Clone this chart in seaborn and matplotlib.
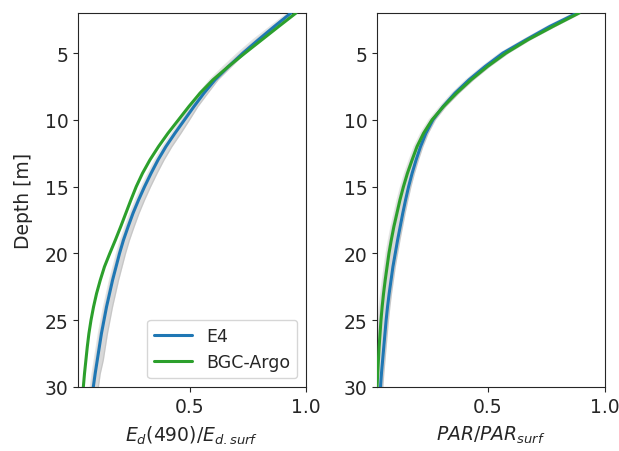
import numpy as np
import pandas as pd
import matplotlib
matplotlib.use('Agg')
import matplotlib.pyplot as plt
import seaborn as sns

# depth levels [m]
depth = list(range(2, 31))

# Ed(490)/Ed.surf
ed_e4 = [0.935, 0.864, 0.795, 0.728, 0.666, 0.608, 0.560, 0.517, 0.476, 0.435,
         0.396, 0.362, 0.332, 0.304, 0.278, 0.254, 0.233, 0.213, 0.196, 0.181,
         0.166, 0.153, 0.140, 0.129, 0.118, 0.109, 0.100, 0.091, 0.083]
ed_argo = [0.957, 0.883, 0.810, 0.737, 0.666, 0.599, 0.543, 0.495, 0.450, 0.405,
           0.364, 0.327, 0.295, 0.268, 0.245, 0.223, 0.201, 0.178, 0.154, 0.131,
           0.113, 0.097, 0.084, 0.073, 0.064, 0.057, 0.051, 0.045, 0.040]
ed_ens_lo = [0.922, 0.847, 0.773, 0.706, 0.644, 0.586, 0.538, 0.500, 0.459, 0.422,
             0.383, 0.349, 0.319, 0.291, 0.265, 0.241, 0.220, 0.200, 0.183, 0.168,
             0.153, 0.140, 0.127, 0.116, 0.105, 0.096, 0.087, 0.078, 0.070]
ed_ens_hi = [0.939, 0.868, 0.804, 0.737, 0.679, 0.621, 0.577, 0.534, 0.498, 0.461,
             0.422, 0.388, 0.358, 0.330, 0.304, 0.280, 0.259, 0.239, 0.222, 0.207,
             0.192, 0.179, 0.166, 0.155, 0.144, 0.135, 0.126, 0.113, 0.105]

# PAR/PARsurf
par_e4 = [0.881, 0.765, 0.663, 0.564, 0.488, 0.419, 0.359, 0.308, 0.265, 0.235,
          0.212, 0.193, 0.176, 0.161, 0.148, 0.136, 0.125, 0.114, 0.104, 0.094,
          0.086, 0.078, 0.071, 0.065, 0.060, 0.055, 0.050, 0.045, 0.041]
par_argo = [0.889, 0.778, 0.671, 0.577, 0.498, 0.428, 0.366, 0.310, 0.261, 0.225,
            0.197, 0.176, 0.156, 0.139, 0.124, 0.111, 0.098, 0.087, 0.077, 0.069,
            0.061, 0.054, 0.048, 0.043, 0.039, 0.035, 0.032, 0.029, 0.026]
par_ens_lo = [0.869, 0.753, 0.651, 0.552, 0.476, 0.407, 0.347, 0.296, 0.249, 0.213,
              0.185, 0.164, 0.144, 0.127, 0.112, 0.099, 0.086, 0.075, 0.065, 0.057,
              0.049, 0.042, 0.036, 0.031, 0.028, 0.026, 0.025, 0.024, 0.023]
par_ens_hi = [0.899, 0.788, 0.681, 0.587, 0.508, 0.438, 0.376, 0.320, 0.275, 0.245,
              0.222, 0.203, 0.186, 0.171, 0.158, 0.146, 0.135, 0.124, 0.114, 0.104,
              0.096, 0.088, 0.081, 0.075, 0.070, 0.065, 0.060, 0.055, 0.051]

sns.set_style('ticks')
fs = 13.5
plt.rcParams['font.size'] = fs

fig = plt.figure(figsize=(6.19, 4.52), dpi=100)
ax1 = fig.add_axes([78/619, 64/452, 228/619, 374/452])
ax2 = fig.add_axes([377/619, 64/452, 228/619, 374/452])

panels = [
    (ax1, ed_e4, ed_argo, ed_ens_lo, ed_ens_hi, r'$E_d(490)/E_{d.surf}$', 0.017),
    (ax2, par_e4, par_argo, par_ens_lo, par_ens_hi, r'$PAR/PAR_{surf}$', 0.026),
]
for ax, e4, argo, lo, hi, xlab, xmin in panels:
    # ensemble spread
    ax.fill_betweenx(depth, lo, hi, color='grey', alpha=0.3, lw=0, zorder=1)
    for edge in (lo, hi):
        ax.plot(edge, depth, color='grey', alpha=0.2, lw=1, zorder=1)
    sns.lineplot(x=e4, y=depth, orient='y', color='#1f77b4', lw=2.2,
                 label='E4', ax=ax, zorder=3)
    sns.lineplot(x=argo, y=depth, orient='y', color='#2ca02c', lw=2.2,
                 label='BGC-Argo', ax=ax, zorder=4)
    ax.set_ylim(30, 2)
    ax.set_xlim(xmin, 1.0)
    ax.set_xticks([0.5, 1.0])
    ax.set_yticks([5, 10, 15, 20, 25, 30])
    ax.set_xlabel(xlab, fontsize=fs, labelpad=6)
    ax.tick_params(labelsize=fs)

ax1.set_ylabel('Depth [m]', fontsize=fs, labelpad=8)
ax2.set_ylabel('')
ax2.get_legend().remove()
ax1.legend(loc='lower right', fontsize=12.5, handlelength=2.2)

plt.savefig('out.png', dpi=100)
